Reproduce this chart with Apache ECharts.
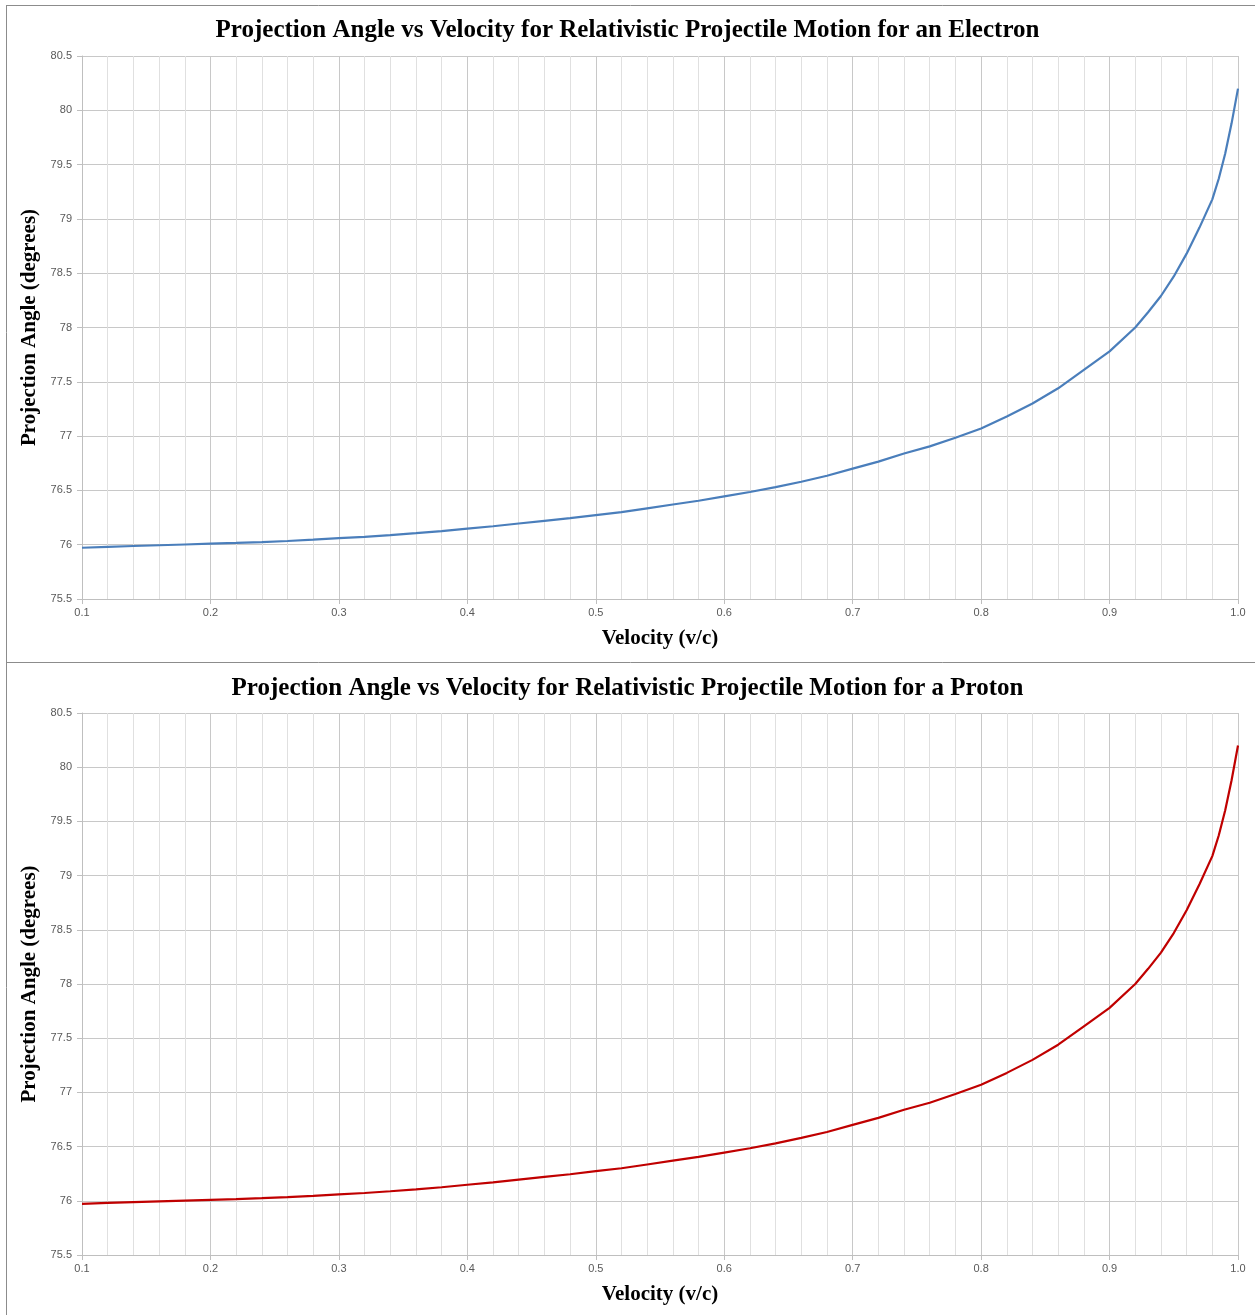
<!DOCTYPE html>
<html>
<head>
<meta charset="utf-8">
<script src="https://cdn.jsdelivr.net/npm/echarts@6/dist/echarts.min.js"></script>
<style>
html,body{margin:0;padding:0;background:#fff;}
#c{width:1255px;height:1315px;}
</style>
</head>
<body>
<div id="c"></div>
<script>
const velocity = [0.10,0.12,0.14,0.16,0.18,0.20,0.22,0.24,0.26,0.28,0.30,0.32,0.34,0.36,0.38,0.40,0.42,0.44,0.46,0.48,0.50,0.52,0.54,0.56,0.58,0.60,0.62,0.64,0.66,0.68,0.70,0.72,0.74,0.76,0.78,0.80,0.82,0.84,0.86,0.88,0.90,0.92,0.93,0.94,0.95,0.96,0.97,0.98,0.985,0.99,0.995,1.00];
const electronAngle = [75.972,75.980,75.988,75.995,76.002,76.009,76.016,76.024,76.034,76.046,76.060,76.072,76.088,76.106,76.125,76.148,76.170,76.195,76.220,76.245,76.273,76.300,76.335,76.370,76.405,76.445,76.485,76.530,76.580,76.635,76.700,76.765,76.840,76.905,76.985,77.070,77.180,77.300,77.440,77.610,77.780,78.000,78.140,78.290,78.470,78.680,78.920,79.180,79.370,79.600,79.880,80.200];
const protonAngle = [75.972,75.980,75.988,75.995,76.002,76.009,76.016,76.024,76.034,76.046,76.060,76.072,76.088,76.106,76.125,76.148,76.170,76.195,76.220,76.245,76.273,76.300,76.335,76.370,76.405,76.445,76.485,76.530,76.580,76.635,76.700,76.765,76.840,76.905,76.985,77.070,77.180,77.300,77.440,77.610,77.780,78.000,78.140,78.290,78.470,78.680,78.920,79.180,79.370,79.600,79.880,80.200];
const titles = ['Projection Angle vs Velocity for Relativistic Projectile Motion for an Electron','Projection Angle vs Velocity for Relativistic Projectile Motion for a Proton'];
const xName = 'Velocity (v/c)';
const yName = 'Projection Angle (degrees)';
const lineColors = ['#4a7ebb','#c00000'];

const chart = echarts.init(document.getElementById('c'), null, {renderer:'canvas'});
const gridTops = [56, 713];
const gridH = 543;
const serif = '"Liberation Serif","Times New Roman",serif';
const sans = '"Liberation Sans","DejaVu Sans",sans-serif';

function xAxis(i){
  return {
    type:'value', gridIndex:i, min:0.1, max:1.0, interval:0.1,
    name:xName, nameLocation:'middle', nameGap:29,
    nameTextStyle:{fontFamily:serif,fontWeight:'bold',fontSize:21,color:'#000'},
    axisLine:{show:true,lineStyle:{color:'#bfbfbf',width:1}},
    axisTick:{show:true,length:5,lineStyle:{color:'#bfbfbf'}},
    minorTick:{show:false,splitNumber:5},
    axisLabel:{fontFamily:sans,fontSize:11,color:'#595959',margin:8,formatter:v=>v.toFixed(1)},
    splitLine:{show:true,lineStyle:{color:'#c8c8c8',width:1}},
    minorSplitLine:{show:true,lineStyle:{color:'#e0e0e0',width:1}}
  };
}
function yAxis(i){
  return {
    type:'value', gridIndex:i, min:75.5, max:80.5, interval:0.5,
    name:yName, nameLocation:'middle', nameGap:37,
    nameTextStyle:{fontFamily:serif,fontWeight:'bold',fontSize:21,color:'#000'},
    axisLine:{show:true,lineStyle:{color:'#bfbfbf',width:1}},
    axisTick:{show:true,length:5,lineStyle:{color:'#bfbfbf'}},
    axisLabel:{fontFamily:sans,fontSize:11,color:'#595959',margin:10},
    splitLine:{show:true,lineStyle:{color:'#c8c8c8',width:1}}
  };
}
function pairs(xs, ys){ return xs.map((x,k)=>[x, ys[k]]); }

chart.setOption({
  backgroundColor:'#fff',
  animation:false,
  title:[
    {text:titles[0],left:'center',top:13,textStyle:{fontFamily:serif,fontWeight:'bold',fontSize:25,color:'#000'}},
    {text:titles[1],left:'center',top:671,textStyle:{fontFamily:serif,fontWeight:'bold',fontSize:25,color:'#000'}}
  ],
  grid:[
    {left:82,right:17,top:gridTops[0],height:gridH},
    {left:82,right:17,top:gridTops[1],height:gridH - 1}
  ],
  xAxis:[xAxis(0),xAxis(1)],
  yAxis:[yAxis(0),yAxis(1)],
  series:[
    {type:'line',xAxisIndex:0,yAxisIndex:0,data:pairs(velocity,electronAngle),showSymbol:false,smooth:false,lineStyle:{color:lineColors[0],width:2.2}},
    {type:'line',xAxisIndex:1,yAxisIndex:1,data:pairs(velocity,protonAngle),showSymbol:false,smooth:false,lineStyle:{color:lineColors[1],width:2.2}}
  ],
  graphic:[
    {type:'line',shape:{x1:6.5,y1:5,x2:6.5,y2:1315},style:{stroke:'#8c8c8c',lineWidth:1}},
    {type:'line',shape:{x1:6,y1:5.5,x2:1255,y2:5.5},style:{stroke:'#8c8c8c',lineWidth:1}},
    {type:'line',shape:{x1:6,y1:662.5,x2:1255,y2:662.5},style:{stroke:'#8c8c8c',lineWidth:1}}
  ]
});
</script>
</body>
</html>
